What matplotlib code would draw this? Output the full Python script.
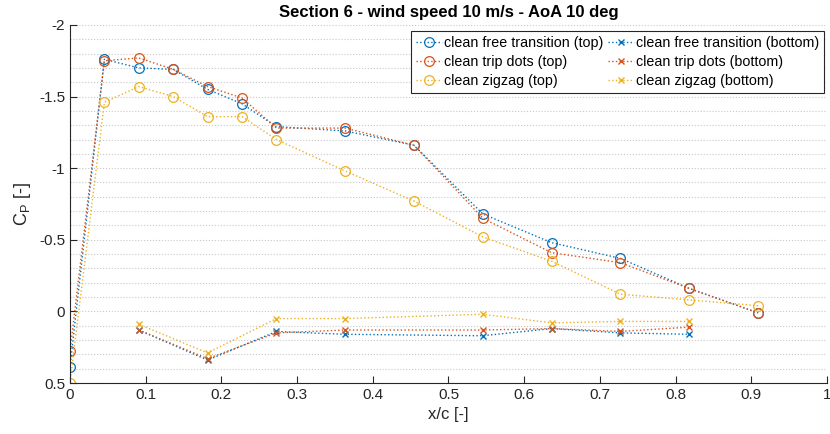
import numpy as np
import matplotlib
matplotlib.use('Agg')
from matplotlib import pyplot as plt
from matplotlib.ticker import MultipleLocator, FuncFormatter

# chordwise tap positions
x_top = np.array([0, 1, 2, 3, 4, 5, 6, 8, 10, 12, 14, 16, 18, 20]) / 22
x_bot = np.array([2, 4, 6, 8, 12, 14, 16, 18]) / 22

free_top = [0.39, -1.76, -1.70, -1.69, -1.55, -1.45, -1.29, -1.26, -1.16, -0.68, -0.48, -0.37, -0.16, 0.01]
trip_top = [0.28, -1.75, -1.77, -1.69, -1.57, -1.49, -1.28, -1.28, -1.16, -0.65, -0.41, -0.34, -0.16, 0.01]
zig_top = [0.50, -1.46, -1.57, -1.50, -1.36, -1.36, -1.20, -0.98, -0.77, -0.52, -0.35, -0.12, -0.08, -0.04]

free_bot = [0.13, 0.34, 0.14, 0.16, 0.17, 0.12, 0.15, 0.16]
trip_bot = [0.13, 0.33, 0.15, 0.13, 0.13, 0.12, 0.14, 0.11]
zig_bot = [0.09, 0.29, 0.05, 0.05, 0.02, 0.08, 0.07, 0.07]

colors = ['#0072BD', '#D95319', '#EDB120']
names = ['clean free transition', 'clean trip dots', 'clean zigzag']

plt.rcParams['font.family'] = ['Liberation Sans', 'DejaVu Sans']
fig = plt.figure(figsize=(8.3, 4.34), dpi=100)
ax = fig.add_axes([0.0843, 0.1175, 0.912, 0.825])

for c, n, t in zip(colors, names, [free_top, trip_top, zig_top]):
    ax.plot(x_top, t, ':', color=c, lw=1.0, marker='o', ms=7, mfc='none', mew=0.9, label=n + ' (top)')
for c, n, b in zip(colors, names, [free_bot, trip_bot, zig_bot]):
    ax.plot(x_bot, b, ':', color=c, lw=1.0, marker='x', ms=5, mew=1.0, label=n + ' (bottom)')

ax.set_xlim(0, 1)
ax.set_ylim(0.5, -2)
ax.xaxis.set_major_locator(MultipleLocator(0.1))
ax.yaxis.set_major_locator(MultipleLocator(0.5))
ax.yaxis.set_minor_locator(MultipleLocator(0.1))
fmt = FuncFormatter(lambda v, p: '%g' % round(v, 3))
ax.xaxis.set_major_formatter(fmt)
ax.yaxis.set_major_formatter(fmt)
ax.grid(True, axis='y', which='both', ls=':', color='#c8c8c8', lw=0.8)
ax.tick_params(direction='in', length=5, labelsize=11, colors='#262626', which='major')
ax.tick_params(which='minor', length=0)
for s in ['top', 'right']:
    ax.spines[s].set_visible(False)
for s in ['left', 'bottom']:
    ax.spines[s].set_color('#262626')
ax.set_xlabel('x/c [-]', fontsize=12, color='#262626')
ax.set_ylabel('C$_\\mathregular{P}$ [-]', fontsize=13, color='#262626')
ax.set_title('Section 6 - wind speed 10 m/s - AoA 10 deg', fontsize=12, fontweight='bold', pad=6)

leg = ax.legend(ncol=2, loc='upper right', bbox_to_anchor=(1.0, 0.99), fontsize=10.3,
                frameon=True, fancybox=False, edgecolor='#262626', framealpha=1,
                handlelength=1.8, handletextpad=0.15, columnspacing=0.3, borderpad=0.35,
                labelspacing=0.32, borderaxespad=0.2)
leg.get_frame().set_linewidth(0.8)

fig.savefig('out.png', dpi=100)
